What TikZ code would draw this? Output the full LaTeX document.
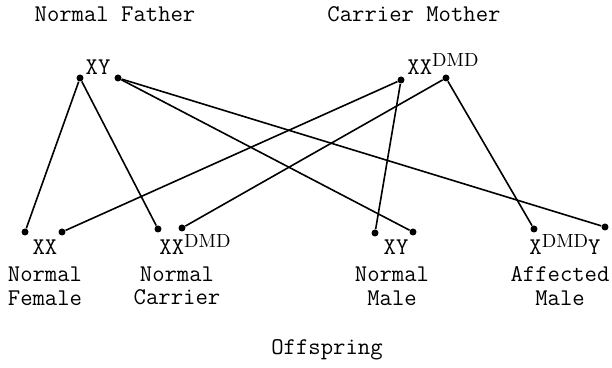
\documentclass[tikz,border=0pt]{standalone}
\usepackage{fontspec}
\usetikzlibrary{positioning}

\newcommand{\dmd}[1]{\raisebox{#1}{\rmfamily\fontsize{9.5}{9.5}\selectfont DMD}}

\begin{document}
\begin{tikzpicture}[x=0.5pt, y=-0.5pt,
    font=\ttfamily\fontsize{12}{11.75}\selectfont,
    dot/.style={circle, fill=black, inner sep=0pt, minimum size=3.5pt},
    link/.style={line width=0.8pt}]
    \useasboundingbox (0,0) rectangle (612,368);
    % Parents
    \node (father) at (115,14) {Normal Father};
    \node (mother) at (414,14) {Carrier Mother};
    \node (xy) [anchor=base] at (98,75) {XY};
    \node (xxd) [anchor=base] at (443,75) {XX\dmd{4pt}};
    \node (fa1) [dot] at (80,78) {};
    \node (fa2) [dot] at (118,78) {};
    \node (mo1) [dot] at (401,80) {};
    \node (mo2) [dot] at (446,78) {};
    % Offspring dots
    \node (of1) [dot] at (25,232) {};
    \node (of2) [dot] at (62,232) {};
    \node (of3) [dot] at (158,229) {};
    \node (of4) [dot] at (182,228) {};
    \node (of5) [dot] at (375,233) {};
    \node (of6) [dot] at (413,232) {};
    \node (of7) [dot] at (534,229) {};
    \node (of8) [dot] at (605,227) {};
    % Offspring labels
    \node (fem) [anchor=base] at (45,255) {XX};
    \node (car) [anchor=base] at (195,255) {XX\dmd{3.5pt}};
    \node (mal) [anchor=base] at (396,255) {XY};
    \node (aff) [anchor=base] at (565,255) {X\dmd{3.5pt}Y};
    \node (femtxt) [align=center] at (45,286) {Normal\\Female};
    \node (cartxt) [align=center] at (177,286) {Normal\\Carrier};
    \node (maltxt) [align=center] at (392,286) {Normal\\Male};
    \node (afftxt) [align=center] at (560,286) {Affected\\Male};
    \node (offspring) at (327,350) {Offspring};
    % Father's gametes
    \draw [link] (fa1) -- (of1);
    \draw [link] (fa1) -- (of3);
    \draw [link] (fa2) -- (of6);
    \draw [link] (fa2) -- (of8);
    % Mother's gametes
    \draw [link] (mo1) -- (of2);
    \draw [link] (mo1) -- (of5);
    \draw [link] (mo2) -- (of4);
    \draw [link] (mo2) -- (of7);
\end{tikzpicture}
\end{document}
